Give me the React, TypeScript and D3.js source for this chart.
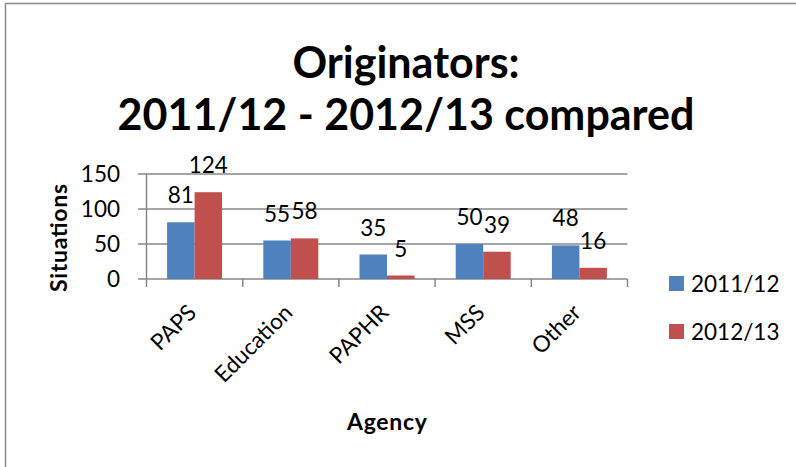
import React from "react";
import * as d3 from "d3";

const categories = ["PAPS", "Education", "PAPHR", "MSS", "Other"];
const seriesNames = ["2011/12", "2012/13"];
const values2011 = [81, 55, 35, 50, 48];
const values2012 = [124, 58, 5, 39, 16];
const yTicks = [0, 50, 100, 150];
const titleLines = ["Originators:", "2011/12 - 2012/13 compared"];
const colors = ["#4F81BD", "#C0504D"];

const W = 796;
const H = 467;
const FONT = "Lato, 'Open Sans', sans-serif";

export default function App() {
  const x0 = d3.scaleBand<string>().domain(categories).range([146.5, 627.5]).padding(0);
  const bw = x0.bandwidth();
  const barW = bw / 3.5;
  const x1 = d3
    .scaleBand<string>()
    .domain(seriesNames)
    .range([(bw - 2 * barW) / 2, (bw + 2 * barW) / 2])
    .padding(0);
  const y = d3.scaleLinear().domain([0, 150]).range([279, 174]);
  const data = [values2011, values2012];

  return (
    <svg
      width={W}
      height={H}
      style={{ position: "absolute", left: 0, top: 0, background: "#fff" }}
      fontFamily={FONT}
    >
      <rect x={0} y={0} width={W} height={H} fill="#fff" />
      <rect x={5.5} y={3.5} width={W + 20} height={H + 20} fill="none" stroke="#8c8c8c" strokeWidth={1.5} />

      {titleLines.map((t, i) => (
        <text
          key={t}
          x={406}
          y={78 + i * 52}
          textAnchor="middle"
          fontSize={43}
          fontWeight="bold"
          fill="#000"
        >
          {t}
        </text>
      ))}

      {/* gridlines + y ticks */}
      {yTicks.map((t) => (
        <g key={t}>
          <line x1={138} x2={627.5} y1={y(t)} y2={y(t)} stroke="#878787" strokeWidth={1.5} />
          <text x={120} y={y(t)} dy="0.36em" textAnchor="end" fontSize={22.5} fill="#000">
            {t}
          </text>
        </g>
      ))}
      {/* y axis */}
      <line x1={146.5} x2={146.5} y1={174} y2={279} stroke="#878787" strokeWidth={1.5} />
      {/* x ticks */}
      {[...categories.map((c) => x0(c) as number), 627.5].map((v, i) => (
        <line key={i} x1={v} x2={v} y1={279} y2={287} stroke="#878787" strokeWidth={1.5} />
      ))}

      {/* bars */}
      {categories.map((c, ci) => (
        <g key={c} transform={`translate(${x0(c)},0)`}>
          {seriesNames.map((s, si) => {
            const v = data[si][ci];
            const bx = x1(s) as number;
            return (
              <g key={s}>
                <rect x={bx} y={y(v)} width={barW} height={y(0) - y(v)} fill={colors[si]} />
                <text
                  x={bx + barW / 2}
                  y={y(v) - 19}
                  textAnchor="middle"
                  fontSize={22.5}
                  fill="#000"
                >
                  {v}
                </text>
              </g>
            );
          })}
        </g>
      ))}

      {/* category labels */}
      {categories.map((c) => {
        const cx = (x0(c) as number) + bw / 2 + 3;
        return (
          <text
            key={c}
            transform={`translate(${cx},${314}) rotate(-45)`}
            textAnchor="end"
            fontSize={22.5}
            fill="#000"
          >
            {c}
          </text>
        );
      })}

      {/* axis titles */}
      <text
        transform={`translate(59,238) rotate(-90)`}
        textAnchor="middle"
        dy="0.36em"
        fontSize={23}
        fontWeight="bold"
        textLength={108}
        lengthAdjust="spacing"
        fill="#000"
      >
        Situations
      </text>
      <text
        x={387}
        y={430}
        textAnchor="middle"
        fontSize={23}
        fontWeight="bold"
        textLength={80}
        lengthAdjust="spacing"
        fill="#000"
      >
        Agency
      </text>

      {/* legend */}
      {seriesNames.map((s, i) => (
        <g key={s} transform={`translate(669,${276 + i * 48})`}>
          <rect x={0} y={0} width={15} height={15} fill={colors[i]} />
          <text x={22} y={7.5} dy="0.36em" fontSize={22.5} fill="#000">
            {s}
          </text>
        </g>
      ))}
    </svg>
  );
}
